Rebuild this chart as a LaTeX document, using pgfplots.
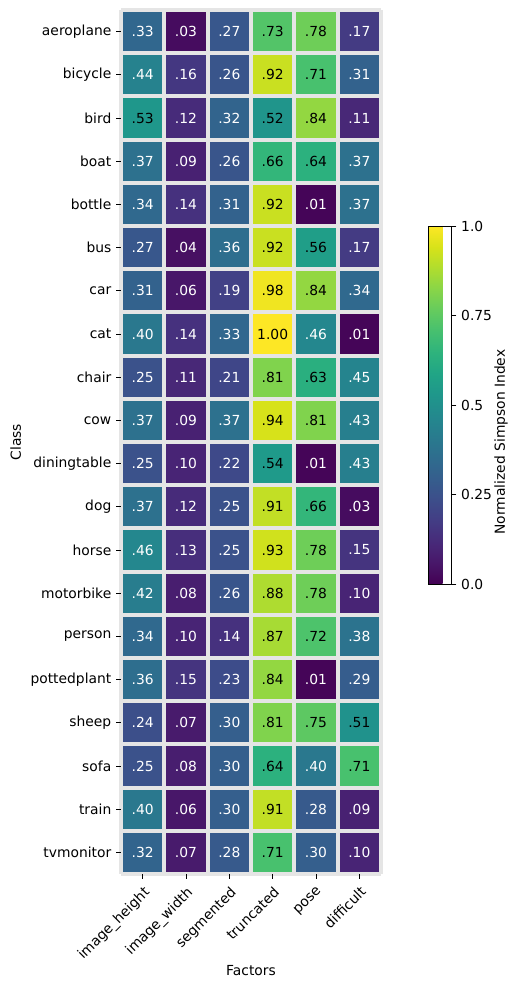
\documentclass[border=0pt]{standalone}
\usepackage{fontspec}
\setmainfont{DejaVu Sans}
\usepackage{pgfplots}
\pgfplotsset{compat=1.18}
\usepackage{pgfplotstable}
\usetikzlibrary{calc}
\definecolor{gapgray}{RGB}{229,229,229}
\newcommand\fs{\fontsize{13.9}{16.5}\selectfont}

\pgfplotstableread{
x y v
0 0 0.33
1 0 0.03
2 0 0.27
3 0 0.73
4 0 0.78
5 0 0.17
0 1 0.44
1 1 0.16
2 1 0.26
3 1 0.92
4 1 0.71
5 1 0.31
0 2 0.53
1 2 0.12
2 2 0.32
3 2 0.52
4 2 0.84
5 2 0.11
0 3 0.37
1 3 0.09
2 3 0.26
3 3 0.66
4 3 0.64
5 3 0.37
0 4 0.34
1 4 0.14
2 4 0.31
3 4 0.92
4 4 0.01
5 4 0.37
0 5 0.27
1 5 0.04
2 5 0.36
3 5 0.92
4 5 0.56
5 5 0.17
0 6 0.31
1 6 0.06
2 6 0.19
3 6 0.98
4 6 0.84
5 6 0.34
0 7 0.40
1 7 0.14
2 7 0.33
3 7 1.00
4 7 0.46
5 7 0.01
0 8 0.25
1 8 0.11
2 8 0.21
3 8 0.81
4 8 0.63
5 8 0.45
0 9 0.37
1 9 0.09
2 9 0.37
3 9 0.94
4 9 0.81
5 9 0.43
0 10 0.25
1 10 0.10
2 10 0.22
3 10 0.54
4 10 0.01
5 10 0.43
0 11 0.37
1 11 0.12
2 11 0.25
3 11 0.91
4 11 0.66
5 11 0.03
0 12 0.46
1 12 0.13
2 12 0.25
3 12 0.93
4 12 0.78
5 12 0.15
0 13 0.42
1 13 0.08
2 13 0.26
3 13 0.88
4 13 0.78
5 13 0.10
0 14 0.34
1 14 0.10
2 14 0.14
3 14 0.87
4 14 0.72
5 14 0.38
0 15 0.36
1 15 0.15
2 15 0.23
3 15 0.84
4 15 0.01
5 15 0.29
0 16 0.24
1 16 0.07
2 16 0.30
3 16 0.81
4 16 0.75
5 16 0.51
0 17 0.25
1 17 0.08
2 17 0.30
3 17 0.64
4 17 0.40
5 17 0.71
0 18 0.40
1 18 0.06
2 18 0.30
3 18 0.91
4 18 0.28
5 18 0.09
0 19 0.32
1 19 0.07
2 19 0.28
3 19 0.71
4 19 0.30
5 19 0.10
}\heat

\begin{document}
\fs
\begin{tikzpicture}
\useasboundingbox (0,0) rectangle (519bp,990bp);
\begin{axis}[
  at={(121bp,116bp)}, anchor=south west,
  scale only axis, width=260bp, height=864bp,
  xmin=-0.5, xmax=5.5, ymin=-0.5, ymax=19.5, y dir=reverse,
  enlargelimits=false,
  axis on top,
  axis line style={draw=none},
  xtick={0,...,5},
  xticklabels={image\_height,image\_width,segmented,truncated,pose,difficult},
  ytick={0,...,19},
  yticklabels={aeroplane,bicycle,bird,boat,bottle,bus,car,cat,chair,cow,diningtable,dog,horse,motorbike,person,pottedplant,sheep,sofa,train,tvmonitor},
  minor xtick={-0.5,0.5,...,5.5},
  minor ytick={-0.5,0.5,...,19.5},
  minor tick length=0pt,
  grid=minor,
  minor grid style={draw=gapgray, line width=4bp},
  xtick pos=bottom, ytick pos=left, tick align=outside,
  major tick length=4.9bp, major tick style={black, line width=0.8bp},
  xticklabel style={rotate=45, anchor=north east, font=\fs},
  yticklabel style={font=\fs},
  xlabel={Factors}, ylabel={Class},
  label style={font=\fs},
  xlabel style={yshift=8bp},
  colormap/viridis,
  point meta min=0, point meta max=1,
  colorbar,
  colorbar style={
    at={($(parent axis.south east)+(39bp,290bp)$)}, anchor=south west,
    scale only axis, width=23bp, height=358bp,
    ytick={0,0.25,0.5,0.75,1}, yticklabels={0.0,0.25,0.5,0.75,1.0},
    ytick pos=right, yticklabel pos=right,
    tick align=outside, major tick length=4.9bp, major tick style={black,line width=0.8bp},
    axis line style={draw=black, line width=0.8bp},
    grid=none,
    yticklabel style={font=\fs},
  },
  /pgf/number format/assume math mode=true,
]
\addplot[matrix plot*, mesh/cols=6, point meta=explicit]
  table[x=x, y=y, meta=v]{\heat};
\addplot[draw=none, mark=none, point meta=explicit,
  nodes near coords={\pgfmathprintnumber[fixed,fixed zerofill,precision=2,skip 0.]{\pgfplotspointmeta}},
  every node near coord/.append style={anchor=center, font=\fs,
    /utils/exec={\ifdim\pgfplotspointmetatransformed pt<495pt \def\tcol{white}\else\def\tcol{black}\fi},
    text=\tcol}]
  table[x=x, y=y, meta=v]{\heat};
\end{axis}
\node[rotate=90, font=\fs] at (501bp,548bp) {Normalized Simpson Index};
\end{tikzpicture}
\end{document}
